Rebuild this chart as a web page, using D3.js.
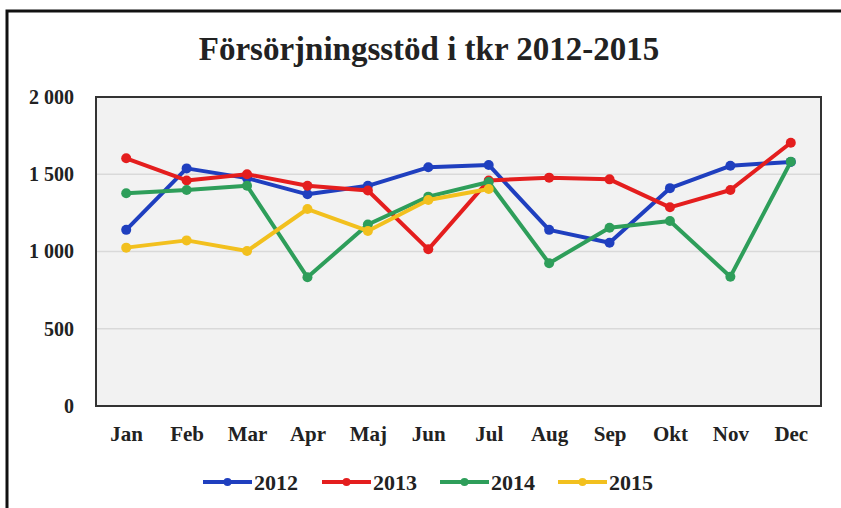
<!DOCTYPE html>
<html>
<head>
<meta charset="utf-8">
<script src="https://cdn.jsdelivr.net/npm/d3@7"></script>
<style>
  html, body { margin: 0; padding: 0; background: #fff; }
  svg { display: block; }
  text { font-family: "Liberation Serif", "Times New Roman", serif; font-weight: bold; fill: #222; }
</style>
</head>
<body>
<svg id="chart" width="841" height="508"></svg>
<script>
// Monthly social assistance (tkr), 2012–2015
const months = ["Jan", "Feb", "Mar", "Apr", "Maj", "Jun", "Jul", "Aug", "Sep", "Okt", "Nov", "Dec"];
const values2012 = [1140, 1538, 1475, 1370, 1425, 1545, 1560, 1140, 1057, 1410, 1555, 1580];
const values2013 = [1603, 1460, 1500, 1425, 1395, 1014, 1460, 1478, 1467, 1286, 1398, 1704];
const values2014 = [1377, 1398, 1425, 833, 1175, 1355, 1450, 924, 1154, 1197, 837, 1581];
const values2015 = [1025, 1072, 1003, 1275, 1133, 1333, 1405];
const seriesNames = ["2012", "2013", "2014", "2015"];
const seriesColors = ["#1f3fbf", "#e41e1e", "#2e9e5a", "#f2c01e"];
const yTicks = [0, 500, 1000, 1500, 2000];
const chartTitle = "Försörjningsstöd i tkr 2012-2015";

const series = [values2012, values2013, values2014, values2015].map((vals, i) => ({
  name: seriesNames[i], color: seriesColors[i], values: vals
}));

const svg = d3.select("#chart");
const W = 841, H = 508;
const plot = { left: 96, right: 821, top: 97, bottom: 406 };

// Outer frame (runs past the right and bottom edges)
svg.append("rect")
  .attr("x", 7).attr("y", 11)
  .attr("width", W + 20).attr("height", H + 20)
  .attr("fill", "#fff").attr("stroke", "#111").attr("stroke-width", 3);

svg.append("text")
  .attr("x", 429).attr("y", 60)
  .attr("text-anchor", "middle")
  .style("font-size", "33px")
  .attr("fill", "#1a1a1a")
  .text(chartTitle);

const x = d3.scalePoint().domain(months).range([plot.left, plot.right]).padding(0.5);
const y = d3.scaleLinear().domain([0, 2000]).range([plot.bottom, plot.top]);

// Plot background
svg.append("rect")
  .attr("x", plot.left).attr("y", plot.top)
  .attr("width", plot.right - plot.left).attr("height", plot.bottom - plot.top)
  .attr("fill", "#f2f2f2");

// Gridlines
svg.append("g")
  .selectAll("line")
  .data(yTicks.filter(t => t > 0 && t < 2000))
  .join("line")
  .attr("x1", plot.left).attr("x2", plot.right)
  .attr("y1", d => y(d)).attr("y2", d => y(d))
  .attr("stroke", "#d9d9d9").attr("stroke-width", 1.5);

// Y axis labels ("2 000" style thousands separator)
const yAxis = d3.axisLeft(y).tickValues(yTicks).tickSize(0).tickPadding(22)
  .tickFormat(d => d >= 1000 ? Math.floor(d / 1000) + " " + String(d % 1000).padStart(3, "0") : String(d));
const gy = svg.append("g").attr("transform", `translate(${plot.left},0)`).call(yAxis);
gy.select(".domain").remove();
gy.selectAll("text").style("font-size", "20px").style("font-family", "Liberation Serif, serif").attr("fill", "#222");

// X axis labels
const xAxis = d3.axisBottom(x).tickSize(0).tickPadding(20);
const gx = svg.append("g").attr("transform", `translate(0,${plot.bottom})`).call(xAxis);
gx.select(".domain").remove();
gx.selectAll("text").style("font-size", "21px").style("font-family", "Liberation Serif, serif").attr("fill", "#222");

// Lines and markers
const line = d3.line().x((d, i) => x(months[i])).y(d => y(d));
const gSeries = svg.append("g")
  .selectAll("g")
  .data(series)
  .join("g");

gSeries.append("path")
  .attr("d", d => line(d.values))
  .attr("fill", "none")
  .attr("stroke", d => d.color)
  .attr("stroke-width", 4)
  .attr("stroke-linejoin", "round");

gSeries.each(function (s) {
  d3.select(this).selectAll("circle")
    .data(s.values)
    .join("circle")
    .attr("cx", (d, i) => x(months[i]))
    .attr("cy", d => y(d))
    .attr("r", 5)
    .attr("fill", s.color);
});

// Plot frame
svg.append("rect")
  .attr("x", plot.left).attr("y", plot.top)
  .attr("width", plot.right - plot.left).attr("height", plot.bottom - plot.top)
  .attr("fill", "none").attr("stroke", "#333").attr("stroke-width", 2);

// Legend
const legendX = [203, 322, 440, 558];
const legend = svg.append("g")
  .selectAll("g")
  .data(series)
  .join("g")
  .attr("transform", (d, i) => `translate(${legendX[i]},482)`);
legend.append("line")
  .attr("x1", 0).attr("x2", 49).attr("y1", 0).attr("y2", 0)
  .attr("stroke", d => d.color).attr("stroke-width", 4);
legend.append("circle")
  .attr("cx", 24.5).attr("cy", 0).attr("r", 4)
  .attr("fill", d => d.color);
legend.append("text")
  .attr("x", 51).attr("y", 0).attr("dy", "0.35em")
  .style("font-size", "22px")
  .attr("fill", "#222")
  .text(d => d.name);
</script>
</body>
</html>
